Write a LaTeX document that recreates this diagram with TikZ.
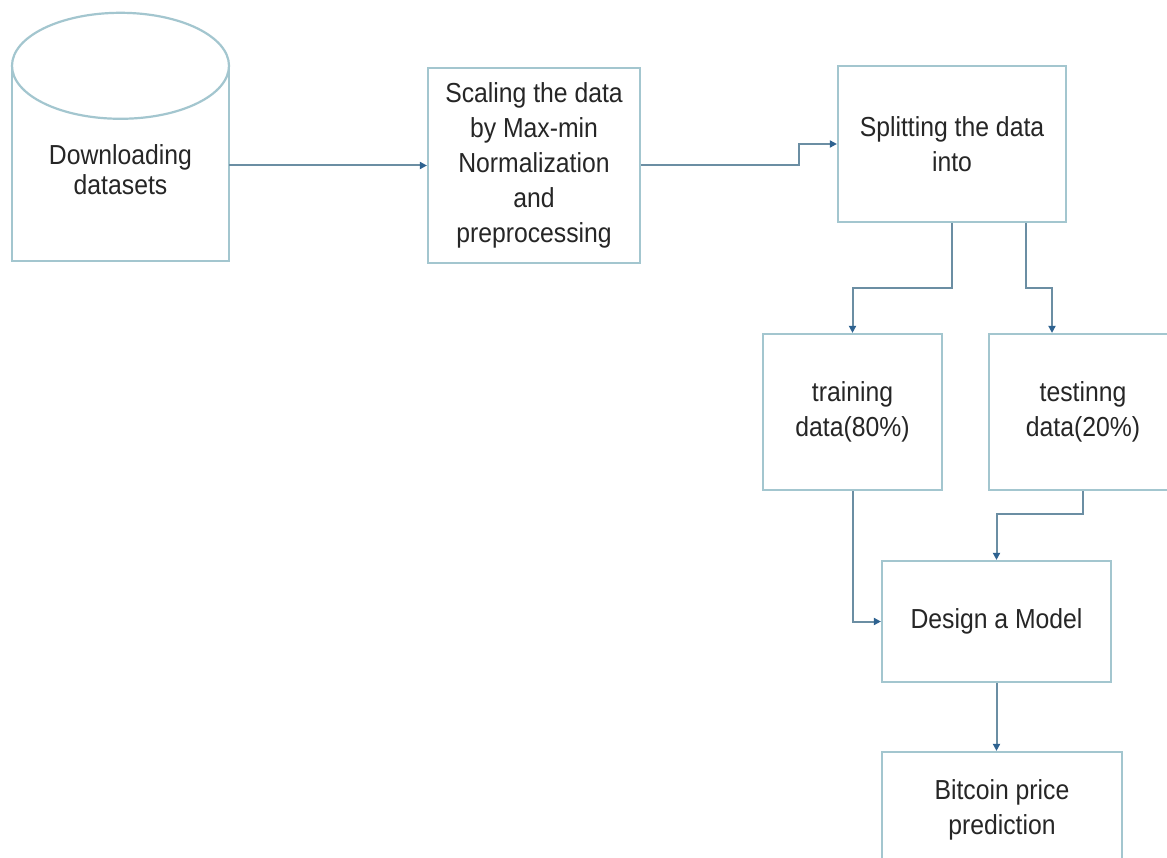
\documentclass[tikz,border=0pt]{standalone}
\usepackage{fontspec}
\setmainfont{Liberation Sans}[FakeStretch=0.9]
\usetikzlibrary{arrows.meta,calc}
\definecolor{boxline}{HTML}{A3C6CF}
\definecolor{conn}{HTML}{6B8EA3}
\definecolor{tipc}{HTML}{2E6290}
\definecolor{txt}{HTML}{262626}
\begin{document}
\begin{tikzpicture}[x=1pt,y=-1pt,
  box/.style={draw=boxline,line width=2.2pt,fill=white,align=center,text=txt,
    font=\fontsize{27.5}{35}\selectfont,inner sep=0pt},
  conn/.style={draw=conn,line width=2pt,-{Triangle[length=7pt,width=7pt,color=tipc]}}
]
\useasboundingbox (0,0) rectangle (1167,858);
\clip (0,0) rectangle (1167,858);
\fill[white] (0,0) rectangle (1167,858);
% cylinder
\node[inner sep=0pt,minimum width=217pt,minimum height=195pt] (dl) at (120.5,163.5) {};
\draw[boxline,line width=2.2pt,fill=white] (dl.north west) -- (dl.south west) -- (dl.south east) -- (dl.north east);
\draw[boxline,line width=2.2pt,fill=white] (dl.north) ellipse [x radius=108.5pt,y radius=53pt];
\node[align=center,text=txt,font=\fontsize{27.5}{30}\selectfont,inner sep=0pt] (dltext) at (120.5,170) {Downloading\\datasets};
% boxes
\node[box,minimum width=212pt,minimum height=195pt] (sc) at (534,165.5) {Scaling the data\\by Max-min\\Normalization\\and\\preprocessing};
\node[box,minimum width=228pt,minimum height=156pt,font=\fontsize{27.5}{35}\selectfont] (sp) at (952,144) {Splitting the data\\into};
\node[box,minimum width=179pt,minimum height=156pt] (tr) at (852.5,412) {training\\data(80\%)};
\node[box,minimum width=188pt,minimum height=156pt] (te) at (1083,412) {testinng\\data(20\%)};
\node[box,minimum width=229pt,minimum height=121pt] (dm) at (996.5,621.5) {Design a Model};
\node[box,minimum width=240pt,minimum height=116pt] (bp) at (1002,810) {Bitcoin price\\prediction};
% connectors
\draw[conn] (sc.west -| dl.east) -- (sc.west);
\draw[conn] (sc.east) -- ++(158,0) |- (sp.west);
\draw[conn] (sp.south) -- ++(0,65) -| (tr.north);
\draw[conn] ($(sp.south)+(74,0)$) -- ++(0,65) -| ($(te.north)+(-31,0)$);
\draw[conn] (tr.south) |- (dm.west);
\draw[conn] (te.south) -- ++(0,23) -| (dm.north);
\draw[conn] (dm.south) -- (dm.south |- bp.north);
\end{tikzpicture}
\end{document}
